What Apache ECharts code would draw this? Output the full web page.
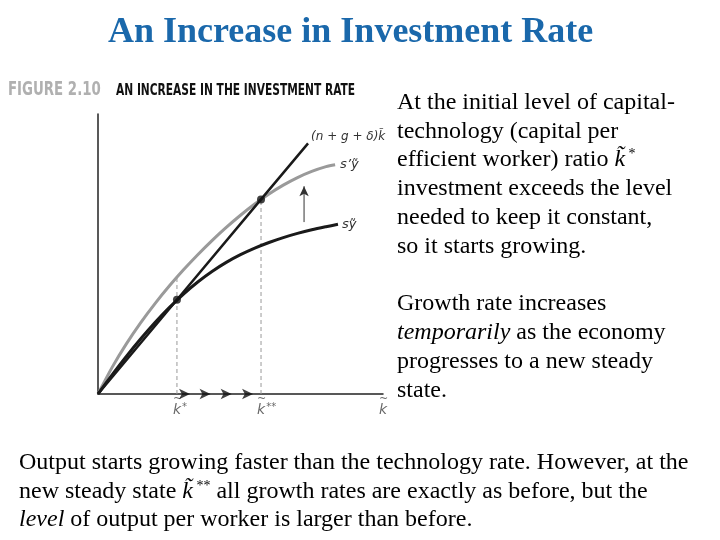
<!DOCTYPE html>
<html><head><meta charset="utf-8">
<script src="https://cdn.jsdelivr.net/npm/echarts@6/dist/echarts.min.js"></script>
<style>html,body{margin:0;padding:0;background:#fff}#c{width:720px;height:540px}</style>
</head><body><div id="c"></div>
<script>
// ---- data (arbitrary units, axes 0..100) ----
const breakEvenLine = [[0,0],[27.7,33.65],[57.2,69.5],[73.7,89.5]];          // (n+g+δ)k
const sY = [[0,0],[5,6.9],[10,13.5],[15,19.7],[20,25.5],[25,30.85],[30,35.7],[35,40.0],[40,43.75],[45,47.0],[50,49.75],[55,52.1],[60,54.1],[65,55.85],[70,57.35],[75,58.65],[80,59.75],[84.2,60.6]];
const sPrimeY = [[0,0],[5,9.6],[10,18.0],[15,25.5],[20,32.3],[25,38.55],[30,44.35],[35,49.75],[40,54.8],[45,59.5],[50,63.85],[55,67.85],[60,71.45],[65,74.6],[70,77.3],[75,79.5],[80,81.2],[83.2,81.9]];
const steadyStates = [[27.7,33.65],[57.2,69.5]];
const dashK1 = [[27.7,0],[27.7,41.7]];
const dashK2 = [[57.2,0],[57.2,69.5]];
const shiftArrow = [[72.3,61.4],[72.3,74.2]];
const transitionArrowX = [32.3,39.5,46.9,54.4];
const tickPositions = [27.7,57.2,100];
const tickStars = ['*','**',''];
const seriesLabels = ['(n + g + \u03b4)k\u0303', 's\u2019\u1ef9', 's\u1ef9'];

const serif = "'Liberation Serif','Times New Roman',serif";
const sans = "'DejaVu Sans',sans-serif";
const narrow = "'DejaVu Sans Condensed','DejaVu Sans',sans-serif";

function tok(size, italic){
  return {fontFamily: serif, fontSize: size, fontStyle: italic ? 'italic' : 'normal', fill: '#000', lineHeight: 28};
}
const rich = {
  n: tok(24,false),
  i: tok(24,true),
  s: Object.assign(tok(14,false), {padding:[0,0,11,0]})
};
function line(x, y, text){
  return {type:'text', x:x, y:y, style:{text:text, rich:rich, textVerticalAlign:'middle', font:'24px '+serif, fill:'#000'}};
}
const curveSmooth = 0.3;

const chart = echarts.init(document.getElementById('c'));
const option = {
  animation: false,
  backgroundColor: '#fff',
  grid: {left: 98, top: 114, right: 337, bottom: 146, containLabel: false},
  xAxis: {type:'value', min:0, max:100, axisLine:{lineStyle:{color:'#222', width:1.5}}, axisTick:{show:false}, axisLabel:{show:false}, splitLine:{show:false}},
  yAxis: {type:'value', min:0, max:100, axisLine:{show:true, lineStyle:{color:'#222', width:1.5}}, axisTick:{show:false}, axisLabel:{show:false}, splitLine:{show:false}},
  series: [
    {type:'line', data:dashK1, symbol:'none', lineStyle:{color:'#999', width:1, type:[4,3]}},
    {type:'line', data:dashK2, symbol:'none', lineStyle:{color:'#999', width:1, type:[4,3]}},
    {type:'line', data:sPrimeY, smooth:curveSmooth, symbol:'none', lineStyle:{color:'#9a9a9a', width:3},
      endLabel:{show:true, formatter:seriesLabels[1], fontFamily:sans, fontStyle:'italic', fontSize:13, color:'#333', distance:5}},
    {type:'line', data:sY, smooth:curveSmooth, symbol:'none', lineStyle:{color:'#1a1a1a', width:3},
      endLabel:{show:true, formatter:seriesLabels[2], fontFamily:sans, fontStyle:'italic', fontSize:13, color:'#333', distance:4}},
    {type:'line', data:breakEvenLine, symbol:'none', lineStyle:{color:'#1a1a1a', width:2.5},
      endLabel:{show:true, formatter:seriesLabels[0], fontFamily:sans, fontStyle:'italic', fontSize:12, color:'#333', distance:3, offset:[0,-7]}},
    {type:'line', showSymbol:true, lineStyle:{color:'#333', width:1}, itemStyle:{color:'#333'},
      data:[{value:shiftArrow[0], symbol:'none'}, {value:shiftArrow[1], symbol:'arrow', symbolSize:[7,10]}]},
    {type:'scatter', data:steadyStates, symbol:'circle', symbolSize:8, itemStyle:{color:'#111'}, z:5},
    {type:'scatter', data:transitionArrowX.map(x=>[x,0]), symbol:'arrow', symbolRotate:-90, symbolSize:[8,11], itemStyle:{color:'#111'}, clip:false, z:6},
    {type:'scatter', data:tickPositions.map((x,i)=>({value:[x,0], name:tickStars[i]})), symbolSize:0, clip:false,
      label:{show:true, position:'bottom', distance:2, offset:[-4,0], align:'left',
        formatter:p=>'{t|~}\n{k|k}{s|'+(p.name||' ')+'}',
        rich:{
          t:{fontFamily:sans, fontSize:11, color:'#444', lineHeight:7},
          k:{fontFamily:sans, fontStyle:'italic', fontSize:14, color:'#444', lineHeight:14},
          s:{fontFamily:sans, fontSize:10, color:'#444', lineHeight:14, padding:[0,0,5,1]}
        }}}
  ],
  graphic: [
    {type:'text', x:108, y:33, style:{text:'An Increase in Investment Rate', font:'bold 36px '+serif, fill:'#1a68ab', textVerticalAlign:'middle'}},
    {type:'text', x:8, y:90, scaleX:0.78, style:{text:'FIGURE 2.10', font:'bold 19px '+narrow, fill:'#b0b0b0', textVerticalAlign:'middle'}},
    {type:'text', x:116, y:91, scaleX:0.79, style:{text:'AN INCREASE IN THE INVESTMENT RATE', font:'bold 15px '+narrow, fill:'#111', textVerticalAlign:'middle'}},
    line(397,103,'{n|At the initial level of capital-}'),
    line(397,132,'{n|technology (capital per}'),
    line(397,160,'{n|efficient worker) ratio }{i|k\u0303}{s| *}'),
    line(397,189,'{n|investment exceeds the level}'),
    line(397,218,'{n|needed to keep it constant,}'),
    line(397,247,'{n|so it starts growing.}'),
    line(397,304,'{n|Growth rate increases}'),
    line(397,333,'{i|temporarily}{n| as the economy}'),
    line(397,362,'{n|progresses to a new steady}'),
    line(397,391,'{n|state.}'),
    line(19,463,'{n|Output starts growing faster than the technology rate. However, at the}'),
    line(19,492,'{n|new steady state }{i|k\u0303}{s| **}{n| all growth rates are exactly as before, but the}'),
    line(19,520,'{i|level}{n| of output per worker is larger than before.}')
  ]
};
chart.setOption(option);
</script>
</body></html>
